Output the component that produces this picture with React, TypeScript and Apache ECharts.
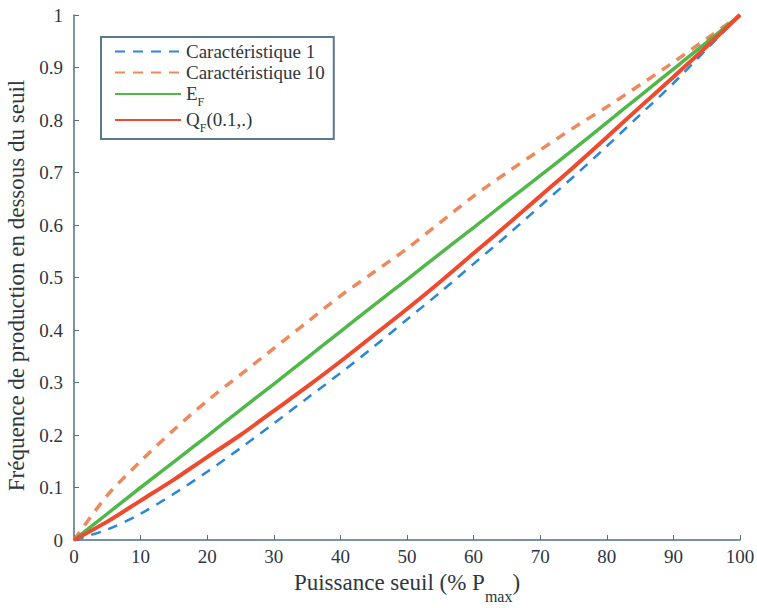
import React, { useEffect, useRef } from "react";
import * as echarts from "echarts";

const xValues = [0, 5, 10, 15, 20, 25, 30, 35, 40, 45, 50, 55, 60, 65, 70, 75, 80, 85, 90, 95, 100];
const carac1 = [0, 0.02, 0.05, 0.088, 0.13, 0.175, 0.222, 0.27, 0.318, 0.368, 0.42, 0.472, 0.526, 0.58, 0.636, 0.692, 0.75, 0.81, 0.87, 0.935, 1];
const carac10 = [0, 0.085, 0.15, 0.21, 0.265, 0.315, 0.365, 0.415, 0.465, 0.51, 0.555, 0.605, 0.655, 0.7, 0.743, 0.785, 0.825, 0.867, 0.91, 0.955, 1];
const eF = [0, 0.05, 0.1, 0.149, 0.198, 0.248, 0.297, 0.347, 0.397, 0.447, 0.496, 0.546, 0.595, 0.645, 0.694, 0.744, 0.795, 0.846, 0.897, 0.948, 1];
const qF = [0, 0.035, 0.075, 0.115, 0.158, 0.2, 0.246, 0.292, 0.34, 0.39, 0.44, 0.492, 0.546, 0.6, 0.655, 0.71, 0.767, 0.825, 0.882, 0.94, 1];

const seriesNames = ["Caractéristique 1", "Caractéristique 10", "EF", "QF(0.1,.)"];
const xTitle = "Puissance seuil (% P";
const yTitle = "Fréquence de production en dessous du seuil";

const FONT = "'Liberation Serif', 'Times New Roman', serif";
const AXIS_COLOR = "#4f6f8a";
const TEXT_COLOR = "#2e3640";

function pairs(ys: number[]) {
  return xValues.map((x, i) => [x, ys[i]]);
}

export default function App() {
  const ref = useRef<HTMLDivElement>(null);
  useEffect(() => {
    if (!ref.current) return;
    const chart = echarts.init(ref.current, null, { renderer: "svg" });
    chart.setOption({
      animation: false,
      backgroundColor: "#ffffff",
      textStyle: { fontFamily: FONT },
      grid: { left: 74, right: 17, top: 15, bottom: 68, outerBoundsMode: "none" },
      legend: {
        orient: "vertical",
        left: 101,
        top: 37,
        padding: [5, 9, 5, 13],
        itemGap: 2,
        itemWidth: 66,
        itemHeight: 14,
        backgroundColor: "#ffffff",
        borderColor: "#5b7890",
        borderWidth: 2,
        itemStyle: { opacity: 0 },
        data: seriesNames,
        formatter: (name: string) => {
          if (name === "EF") return "{m|E}{s|F}";
          if (name === "QF(0.1,.)") return "{m|Q}{s|F}{m|(0.1,.)}";
          return "{p|" + name + "}";
        },
        textStyle: {
          fontFamily: FONT,
          fontSize: 19,
          color: TEXT_COLOR,
          rich: {
            p: { fontFamily: FONT, fontSize: 19, color: TEXT_COLOR, lineHeight: 24 },
            m: { fontFamily: FONT, fontSize: 19, color: TEXT_COLOR, lineHeight: 20, verticalAlign: "top" },
            s: { fontFamily: FONT, fontSize: 12, color: TEXT_COLOR, lineHeight: 12, verticalAlign: "top", padding: [12, 0, 0, 0] },
          },
        },
      },
      xAxis: {
        type: "value",
        min: 0,
        max: 100,
        interval: 10,
        name: "{m|" + xTitle + "}{s|max}{m|)}",
        nameLocation: "middle",
        nameGap: 26,
        nameTextStyle: {
          rich: {
            m: { fontFamily: FONT, fontSize: 23, color: TEXT_COLOR, lineHeight: 22, verticalAlign: "top" },
            s: { fontFamily: FONT, fontSize: 16, color: TEXT_COLOR, lineHeight: 16, verticalAlign: "top", padding: [18, 0, 0, 0] },
          },
        },
        axisLine: { show: true, lineStyle: { color: AXIS_COLOR, width: 1.5 } },
        axisTick: { show: true, inside: true, length: 5, lineStyle: { color: AXIS_COLOR } },
        axisLabel: { fontFamily: FONT, fontSize: 19, color: TEXT_COLOR, margin: 7 },
        splitLine: { show: false },
      },
      yAxis: {
        type: "value",
        min: 0,
        max: 1,
        interval: 0.1,
        name: yTitle,
        nameLocation: "middle",
        nameGap: 42,
        nameTextStyle: { fontFamily: FONT, fontSize: 23, color: TEXT_COLOR, padding: [0, 16, 0, 0] },
        axisLine: { show: true, lineStyle: { color: AXIS_COLOR, width: 1.5 } },
        axisTick: { show: true, inside: true, length: 5, lineStyle: { color: AXIS_COLOR } },
        axisLabel: { fontFamily: FONT, fontSize: 19, color: TEXT_COLOR, margin: 11 },
        splitLine: { show: false },
      },
      series: [
        {
          name: seriesNames[0],
          type: "line",
          data: pairs(carac1),
          symbol: "none",
          smooth: 0.3,
          lineStyle: { color: "#2a86d6", width: 2.5, type: [10, 8] },
          itemStyle: { color: "#2a86d6" },
        },
        {
          name: seriesNames[1],
          type: "line",
          data: pairs(carac10),
          symbol: "none",
          smooth: 0.3,
          lineStyle: { color: "#ec8a5e", width: 3.5, type: [10, 8] },
          itemStyle: { color: "#ec8a5e" },
        },
        {
          name: seriesNames[2],
          type: "line",
          data: pairs(eF),
          symbol: "none",
          smooth: 0.3,
          lineStyle: { color: "#4fb848", width: 3.5 },
          itemStyle: { color: "#4fb848" },
        },
        {
          name: seriesNames[3],
          type: "line",
          data: pairs(qF),
          symbol: "none",
          smooth: 0.3,
          lineStyle: { color: "#ee4a2e", width: 4 },
          itemStyle: { color: "#ee4a2e" },
        },
      ],
    });
    return () => chart.dispose();
  }, []);
  return (
    <div
      ref={ref}
      style={{ position: "fixed", left: 0, top: 0, width: 757, height: 608 }}
    />
  );
}
